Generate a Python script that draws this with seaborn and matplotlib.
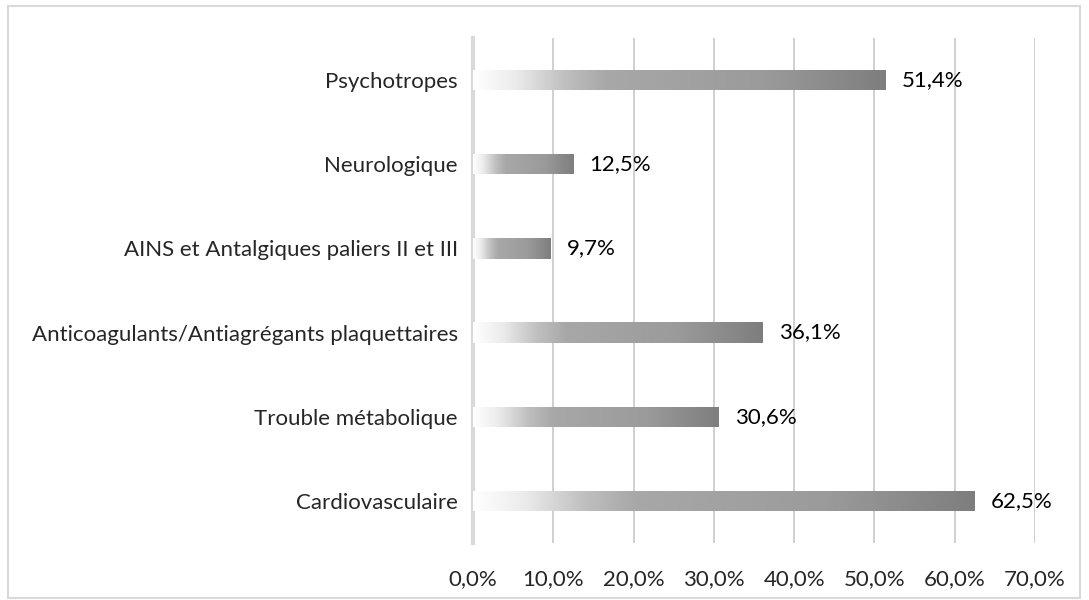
import numpy as np
import pandas as pd
import matplotlib
matplotlib.use("Agg")
import matplotlib.pyplot as plt
from matplotlib.colors import LinearSegmentedColormap
from matplotlib.patches import Rectangle
import seaborn as sns

# --- data ---
categories = [
    "Psychotropes",
    "Neurologique",
    "AINS et Antalgiques paliers II et III",
    "Anticoagulants/Antiagrégants plaquettaires",
    "Trouble métabolique",
    "Cardiovasculaire",
]
values = [51.4, 12.5, 9.7, 36.1, 30.6, 62.5]
x_ticks = [0, 10, 20, 30, 40, 50, 60, 70]

df = pd.DataFrame({"cat": categories, "val": values})

sns.set_theme(style="white")
plt.rcParams["font.family"] = ["Lato", "DejaVu Sans"]
FS = 16

fig = plt.figure(figsize=(10.89, 6.0), dpi=100)
ax = fig.add_axes([473 / 1089, 1 - 543 / 600, (1035 - 473) / 1089, (543 - 38) / 600])

sns.barplot(data=df, x="val", y="cat", orient="h", width=0.24, ax=ax,
            color="#a0a0a0", saturation=1)

# gradient fill per bar (white -> gray -> darker gray)
cmap = LinearSegmentedColormap.from_list("grad", [
    (0.0, "#ffffff"), (0.1, "#ececec"), (0.22, "#c0c0c0"), (0.32, "#a8a8a8"),
    (0.7, "#9b9b9b"), (1.0, "#7e7e7e")])
grad = np.linspace(0, 1, 256).reshape(1, -1)
for p in ax.patches:
    x0, y0 = p.get_x(), p.get_y()
    w, h = p.get_width(), p.get_height()
    p.set_facecolor("none")
    p.set_edgecolor("none")
    im = ax.imshow(grad, cmap=cmap, aspect="auto", extent=(x0, x0 + w, y0 + h, y0),
                   zorder=2, interpolation="bicubic")
    im.set_clip_path(p)
    ax.text(x0 + w + 2.0, y0 + h / 2, f"{w:.1f}%".replace(".", ","),
            va="center", ha="left", fontsize=FS, color="#000000", zorder=3)

ax.set_xlim(0, 70)
ax.set_ylim(5.5, -0.5)
ax.set_xticks(x_ticks)
ax.set_xticklabels([f"{t:.1f}%".replace(".", ",") for t in x_ticks], fontsize=FS)
ax.tick_params(axis="y", labelsize=FS, length=0, pad=11)
ax.tick_params(axis="x", length=0, pad=19)
ax.set_xlabel("")
ax.set_ylabel("")
ax.set_axisbelow(True)
ax.grid(axis="x", color="#c8c8c8", linewidth=1.2)
ax.grid(axis="y", visible=False)
for s in ["top", "right", "bottom"]:
    ax.spines[s].set_visible(False)
ax.spines["left"].set_color("#d9d9d9")
ax.spines["left"].set_linewidth(3)
ax.spines["left"].set_zorder(1)

# figure border
fig.patches.append(Rectangle((8 / 1089, 2 / 600), 1072 / 1089, 592 / 600,
                             transform=fig.transFigure, fill=False,
                             edgecolor="#d9d9d9", linewidth=1.5))

fig.savefig("out.png", dpi=100)
